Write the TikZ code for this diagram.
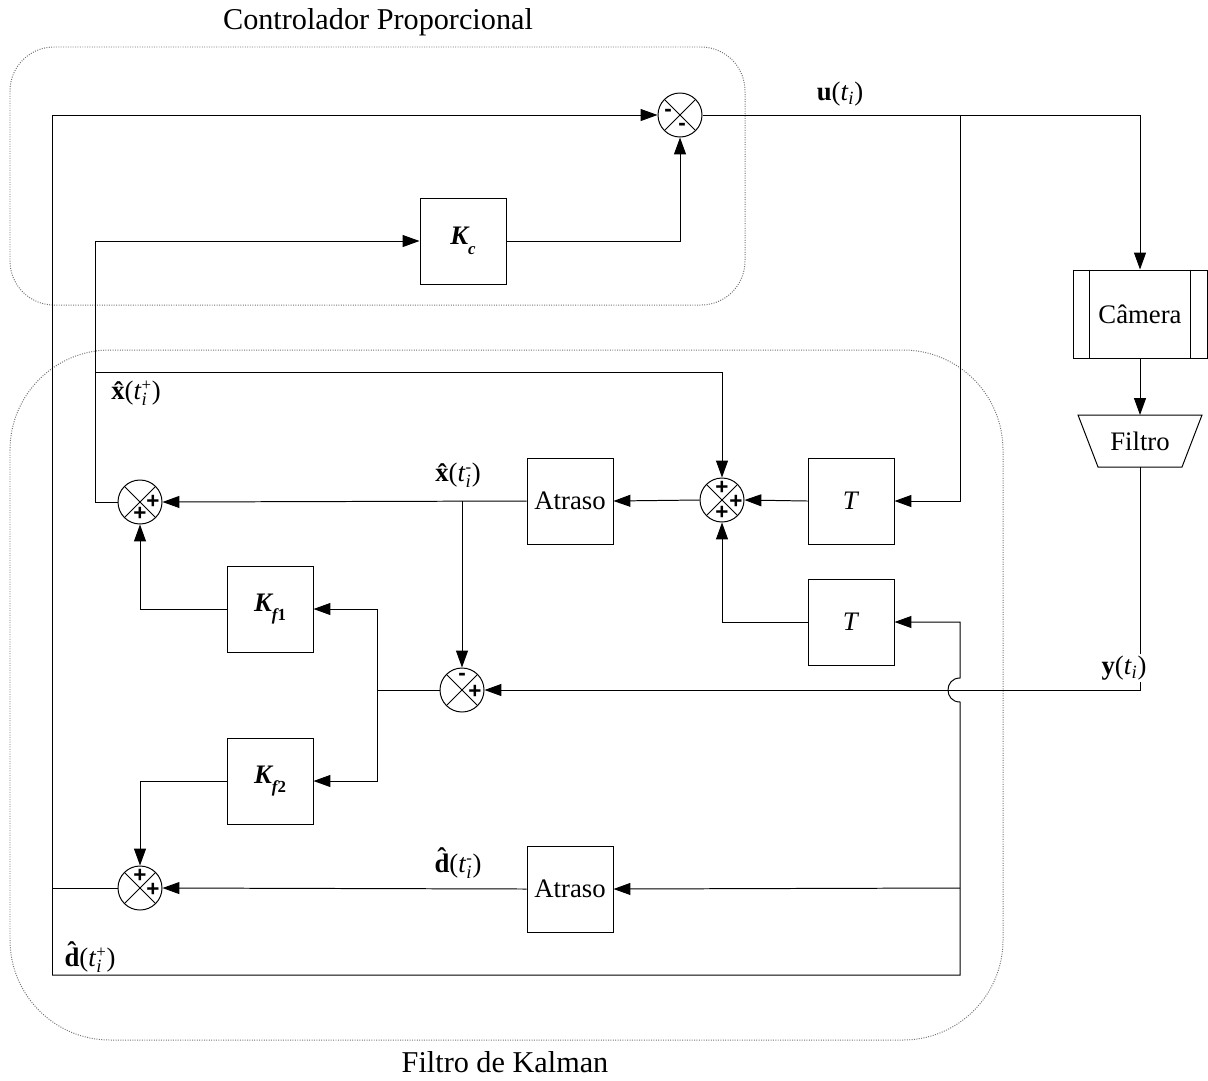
\documentclass[tikz,border=0pt]{standalone}
\usepackage{fontspec}
\setmainfont{Liberation Serif}
\setsansfont{Liberation Sans}
\usetikzlibrary{arrows.meta,shapes.geometric,calc}
\newcommand{\tsub}[2]{\textit{t}$_{\mathit{i}}^{\mbox{\fontsize{12}{12}\selectfont #2}}$}
\begin{document}
\begin{tikzpicture}[x=0.025cm,y=-0.025cm,
 line width=0.7pt,
 every node/.style={font=\fontsize{19}{22}\selectfont},
 blk/.style={draw, minimum width=2.15cm, minimum height=2.15cm, inner sep=0},
 sumj/.style={draw, circle, minimum size=1.1cm, inner sep=0,
   path picture={\draw[line width=0.6pt] (path picture bounding box.center) +(45:0.6cm) -- +(225:0.6cm)
     (path picture bounding box.center) +(135:0.6cm) -- +(315:0.6cm);}},
 sgn/.style={font=\fontsize{16}{16}\sffamily\bfseries\selectfont, inner sep=0},
 arr/.style={-{Triangle[length=12pt,width=8.5pt]}},
 region/.style={draw=gray!90!black, densely dotted, line width=0.7pt},
 lbl/.style={inner sep=1pt},
 ttl/.style={inner sep=0, font=\fontsize{21.5}{24}\selectfont}
]
\useasboundingbox (0,0) rectangle (1208,1080);

% regions
\draw[region, rounded corners=1.1cm] (10,47) rectangle (745,305);
\draw[region, rounded corners=2.5cm] (10,350) rectangle (1003,1040);
\node[ttl] (tctrl) at (378,22) {Controlador Proporcional};
\node[ttl] (tkal) at (505,1062) {Filtro de Kalman};

% blocks
\node[sumj] (S1) at (680,115) {};
\node[sgn] at (668,113) {-};
\node[sgn] at (682,127) {-};
\node[blk] (Kc) at (463,241) {\bfseries\itshape K\raisebox{-0.8ex}{\fontsize{12}{12}\selectfont c}};

\node[sumj] (S2) at (722,500) {};
\node[sgn] at (722,488) {+};
\node[sgn] at (736,502) {+};
\node[sgn] at (722,513) {+};

\node[blk] (T1) at (851,501) {\textit{T}};
\node[blk] (T2) at (851,622) {\textit{T}};
\node[blk] (A1) at (570,501) {Atraso};
\node[blk] (A2) at (570,889) {Atraso};

\node[sumj] (Sx) at (140,502) {};
\node[sgn] at (153,502) {+};
\node[sgn] at (140,514) {+};

\node[sumj] (S3) at (462,690) {};
\node[sgn] at (462,677) {-};
\node[sgn] at (475,692) {+};

\node[sumj] (Sd) at (140,888) {};
\node[sgn] at (140,876) {+};
\node[sgn] at (153,890) {+};

\node[blk] (Kf1) at (270,609) {\bfseries\itshape K\raisebox{-0.8ex}{\fontsize{12}{12}\selectfont f\upshape 1}};
\node[blk] (Kf2) at (270,781) {\bfseries\itshape K\raisebox{-0.8ex}{\fontsize{12}{12}\selectfont f\upshape 2}};

% camera
\node[draw, minimum width=3.35cm, minimum height=2.2cm, inner sep=0] (cam) at (1140,314) {Câmera};
\draw ($(cam.north west)+(17,0)$) -- ($(cam.south west)+(17,0)$);
\draw ($(cam.north east)+(-17,0)$) -- ($(cam.south east)+(-17,0)$);

% filter
\coordinate (filtT) at (1140,415);
\coordinate (filtB) at (1140,467);
\draw (1078,415) -- (1202,415) -- (1182,467) -- (1098,467) -- cycle;
\node[inner sep=0] (filt) at (1140,441) {Filtro};

% junction coordinates
\coordinate (jU) at (960,115);
\coordinate (jX) at (95,372);
\coordinate (jXm) at (462,501);
\coordinate (jE) at (377,690);
\coordinate (jD) at (960,888);
\coordinate (cBL) at (52,975);
\coordinate (cBR) at (960,975);
\coordinate (cTL) at (52,115);

% connectors
\draw[arr] (S1.east) -| (cam.north);
\draw[arr] (jU) |- (T1.east);
\draw[arr] (cam.south) -- (filtT);
\draw[arr] (Kc.east) -| (S1.south);
\draw[arr] (Sx.west) -| (95,241) -- (Kc.west);
\draw[arr] (jX) -| (S2.north);
\draw[arr] (T1.west) -- (S2.east);
\draw[arr] (T2.west) -| (S2.south);
\draw[arr] (S2.west) -- (A1.east);
\draw[arr] (A1.west) -- (Sx.east);
\draw[arr] (jXm) -- (S3.north);
\draw[arr] (filtB) |- (S3.east);
\draw (S3.west) -- (jE);
\draw[arr] (jE) |- (Kf1.east);
\draw[arr] (jE) |- (Kf2.east);
\draw[arr] (Kf1.west) -| (Sx.south);
\draw[arr] (Kf2.west) -| (Sd.north);
\draw[arr] (A2.west) -- (Sd.east);
\draw (Sd.west) -- (52,888);
\draw[arr] (cBL) -- (cTL) -- (S1.west);
\draw[arr] (cBL) -- (cBR) -- (960,702) .. controls (944,702) and (944,678) .. (960,678) |- (T2.east);
\draw[arr] (jD) -- (A2.east);

% labels
\node[lbl] (lu) at (840,94) {{\bfseries u}(\textit{t}$_{\mathit{i}}$)};
\node[lbl, fill=white] (ly) at (1124,668) {{\bfseries y}(\textit{t}$_{\mathit{i}}$)};
\node[lbl] (lxp) at (136,393) {{\bfseries\^{x}}(\tsub{i}{+})};
\node[lbl] (lxm) at (458,475) {{\bfseries\^{x}}(\tsub{i}{-})};
\node[lbl] (ldm) at (458,863) {{\bfseries\^{d}}(\tsub{i}{-})};
\node[lbl] (ldp) at (90,957) {{\bfseries\^{d}}(\tsub{i}{+})};
\end{tikzpicture}
\end{document}
